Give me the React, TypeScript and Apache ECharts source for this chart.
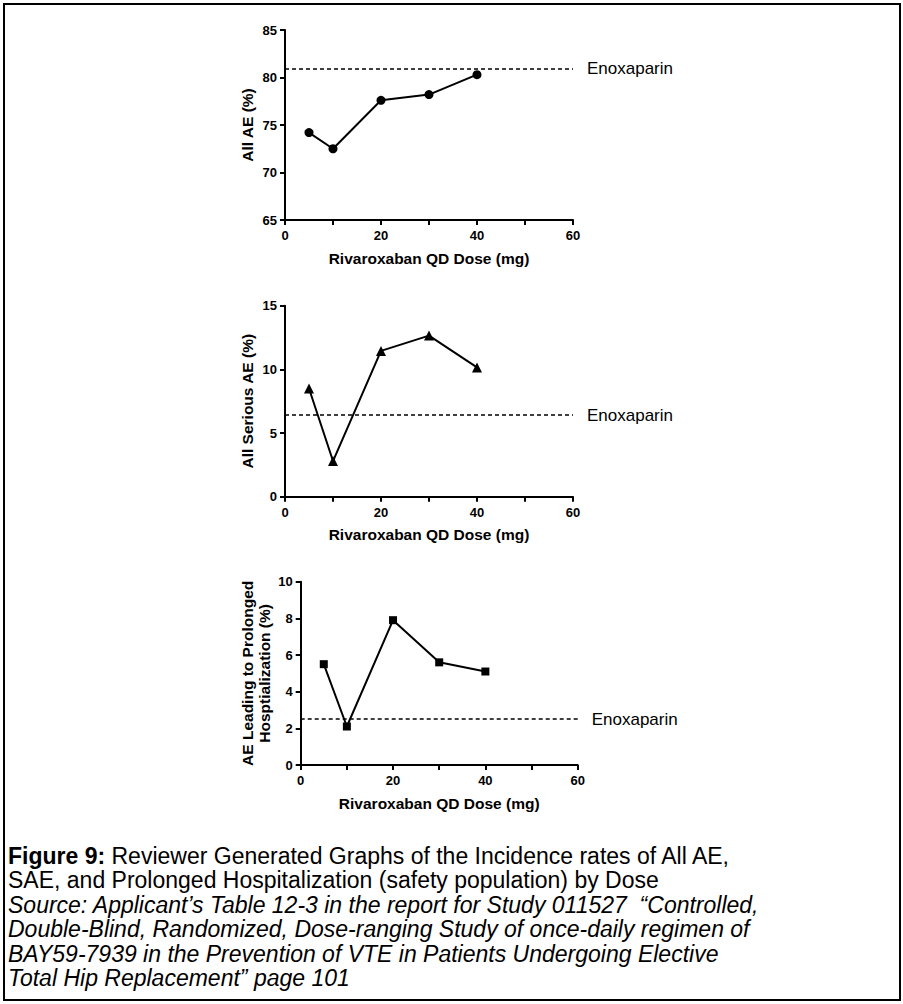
import React, { useEffect, useRef } from "react";
import * as echarts from "echarts";

const doses = [5, 10, 20, 30, 40];
const allAE = [74.2, 72.5, 77.6, 78.2, 80.3];
const seriousAE = [8.5, 2.8, 11.45, 12.65, 10.15];
const prolongedHosp = [5.5, 2.1, 7.9, 5.6, 5.1];
const enoxaparin = [80.9, 6.4, 2.5];
const enoxLabel = "Enoxaparin";
const xTitle = "Rivaroxaban QD Dose (mg)";
const yTitles = ["All AE (%)", "All Serious AE (%)", "AE Leading to Prolonged\nHosptialization (%)"];
const yRanges = [
  [65, 85, 5],
  [0, 15, 5],
  [0, 10, 2],
];
const symbols = ["circle", "triangle", "rect"];
const captionLines = [
  "{b|Figure 9:} Reviewer Generated Graphs of the Incidence rates of All AE,",
  "SAE, and Prolonged Hospitalization (safety population) by Dose",
  "{i|Source: Applicant\u2019s Table 12-3 in the report for Study 011527  \u201cControlled,}",
  "{i|Double-Blind, Randomized, Dose-ranging Study of once-daily regimen of}",
  "{i|BAY59-7939 in the Prevention of VTE in Patients Undergoing Elective}",
  "{i|Total Hip Replacement\u201d page 101}",
];

const FONT = "Liberation Sans, Arial, Helvetica, sans-serif";
const CAP = 23;

export default function App() {
  const ref = useRef<HTMLDivElement>(null);
  useEffect(() => {
    if (!ref.current) return;
    const chart = echarts.init(ref.current, undefined, { renderer: "svg" });
    const grids = [
      { left: 285, top: 30, width: 288, height: 190 },
      { left: 285, top: 305.7, width: 288, height: 191 },
      { left: 300.7, top: 581.7, width: 277, height: 183.3 },
    ];
    const seriesData = [allAE, seriousAE, prolongedHosp];
    const symSizes = [9, 10, 8];
    const axisLine = { show: true, onZero: false, lineStyle: { color: "#000", width: 2 } };
    const axisTick = { show: true, length: 5, lineStyle: { color: "#000", width: 2 } };
    const tickLabel = { color: "#000", fontWeight: "bold" as const, fontSize: 13, fontFamily: FONT };
    const option: any = {
      animation: false,
      backgroundColor: "#fff",
      grid: grids.map((g) => ({ ...g, containLabel: false })),
      xAxis: grids.map((_, i) => ({
        type: "value",
        gridIndex: i,
        min: 0,
        max: 60,
        interval: 10,
        axisLine,
        axisTick,
        splitLine: { show: false },
        axisLabel: {
          ...tickLabel,
          margin: 9,
          formatter: (v: number) => (v % 20 === 0 ? String(v) : ""),
        },
        name: xTitle,
        nameLocation: "middle",
        nameGap: 30,
        nameTextStyle: { color: "#000", fontWeight: "bold", fontSize: 15.5, fontFamily: FONT },
      })),
      yAxis: grids.map((_, i) => ({
        type: "value",
        gridIndex: i,
        min: yRanges[i][0],
        max: yRanges[i][1],
        interval: yRanges[i][2],
        axisLine,
        axisTick,
        splitLine: { show: false },
        axisLabel: { ...tickLabel, margin: 8 },
        name: yTitles[i],
        nameLocation: "middle",
        nameGap: i === 2 ? 28 : 29,
        nameTextStyle: {
          color: "#000",
          fontWeight: "bold",
          fontSize: 15.5,
          fontFamily: FONT,
          lineHeight: 17,
        },
      })),
      series: seriesData.map((vals, i) => ({
        type: "line",
        xAxisIndex: i,
        yAxisIndex: i,
        data: doses.map((d, k) => [d, vals[k]]),
        symbol: symbols[i],
        symbolSize: symSizes[i],
        showSymbol: true,
        lineStyle: { color: "#000", width: 2 },
        itemStyle: { color: "#000", borderWidth: 0 },
        silent: true,
        markLine: {
          silent: true,
          symbol: ["none", "none"],
          lineStyle: { color: "#000", type: [4, 3], width: 1.5 },
          label: {
            show: true,
            position: "end",
            distance: 14,
            formatter: enoxLabel,
            color: "#000",
            fontSize: 17,
            fontFamily: FONT,
          },
          data: [[{ coord: [0, enoxaparin[i]] }, { coord: [60, enoxaparin[i]] }]],
        },
      })),
      graphic: [
        {
          type: "rect",
          shape: { x: 4, y: 4, width: 896, height: 996 },
          style: { fill: "none", stroke: "#000", lineWidth: 2 },
          silent: true,
        },
        ...captionLines.map((t, k) => ({
          type: "text",
          x: 8,
          y: 856 + k * 24.4,
          silent: true,
          style: {
            text: t,
            fill: "#000",
            fontSize: CAP,
            lineHeight: 24,
            fontFamily: FONT,
            verticalAlign: "middle",
            rich: {
              b: { fontWeight: "bold", fontSize: CAP, lineHeight: 24, fontFamily: FONT, fill: "#000" },
              i: { fontStyle: "italic", fontSize: CAP, lineHeight: 24, fontFamily: FONT, fill: "#000" },
            },
          },
        })),
      ],
    };
    chart.setOption(option);
    return () => chart.dispose();
  }, []);
  return (
    <div
      ref={ref}
      style={{ position: "absolute", left: 0, top: 0, width: 903, height: 1004, background: "#fff" }}
    />
  );
}
